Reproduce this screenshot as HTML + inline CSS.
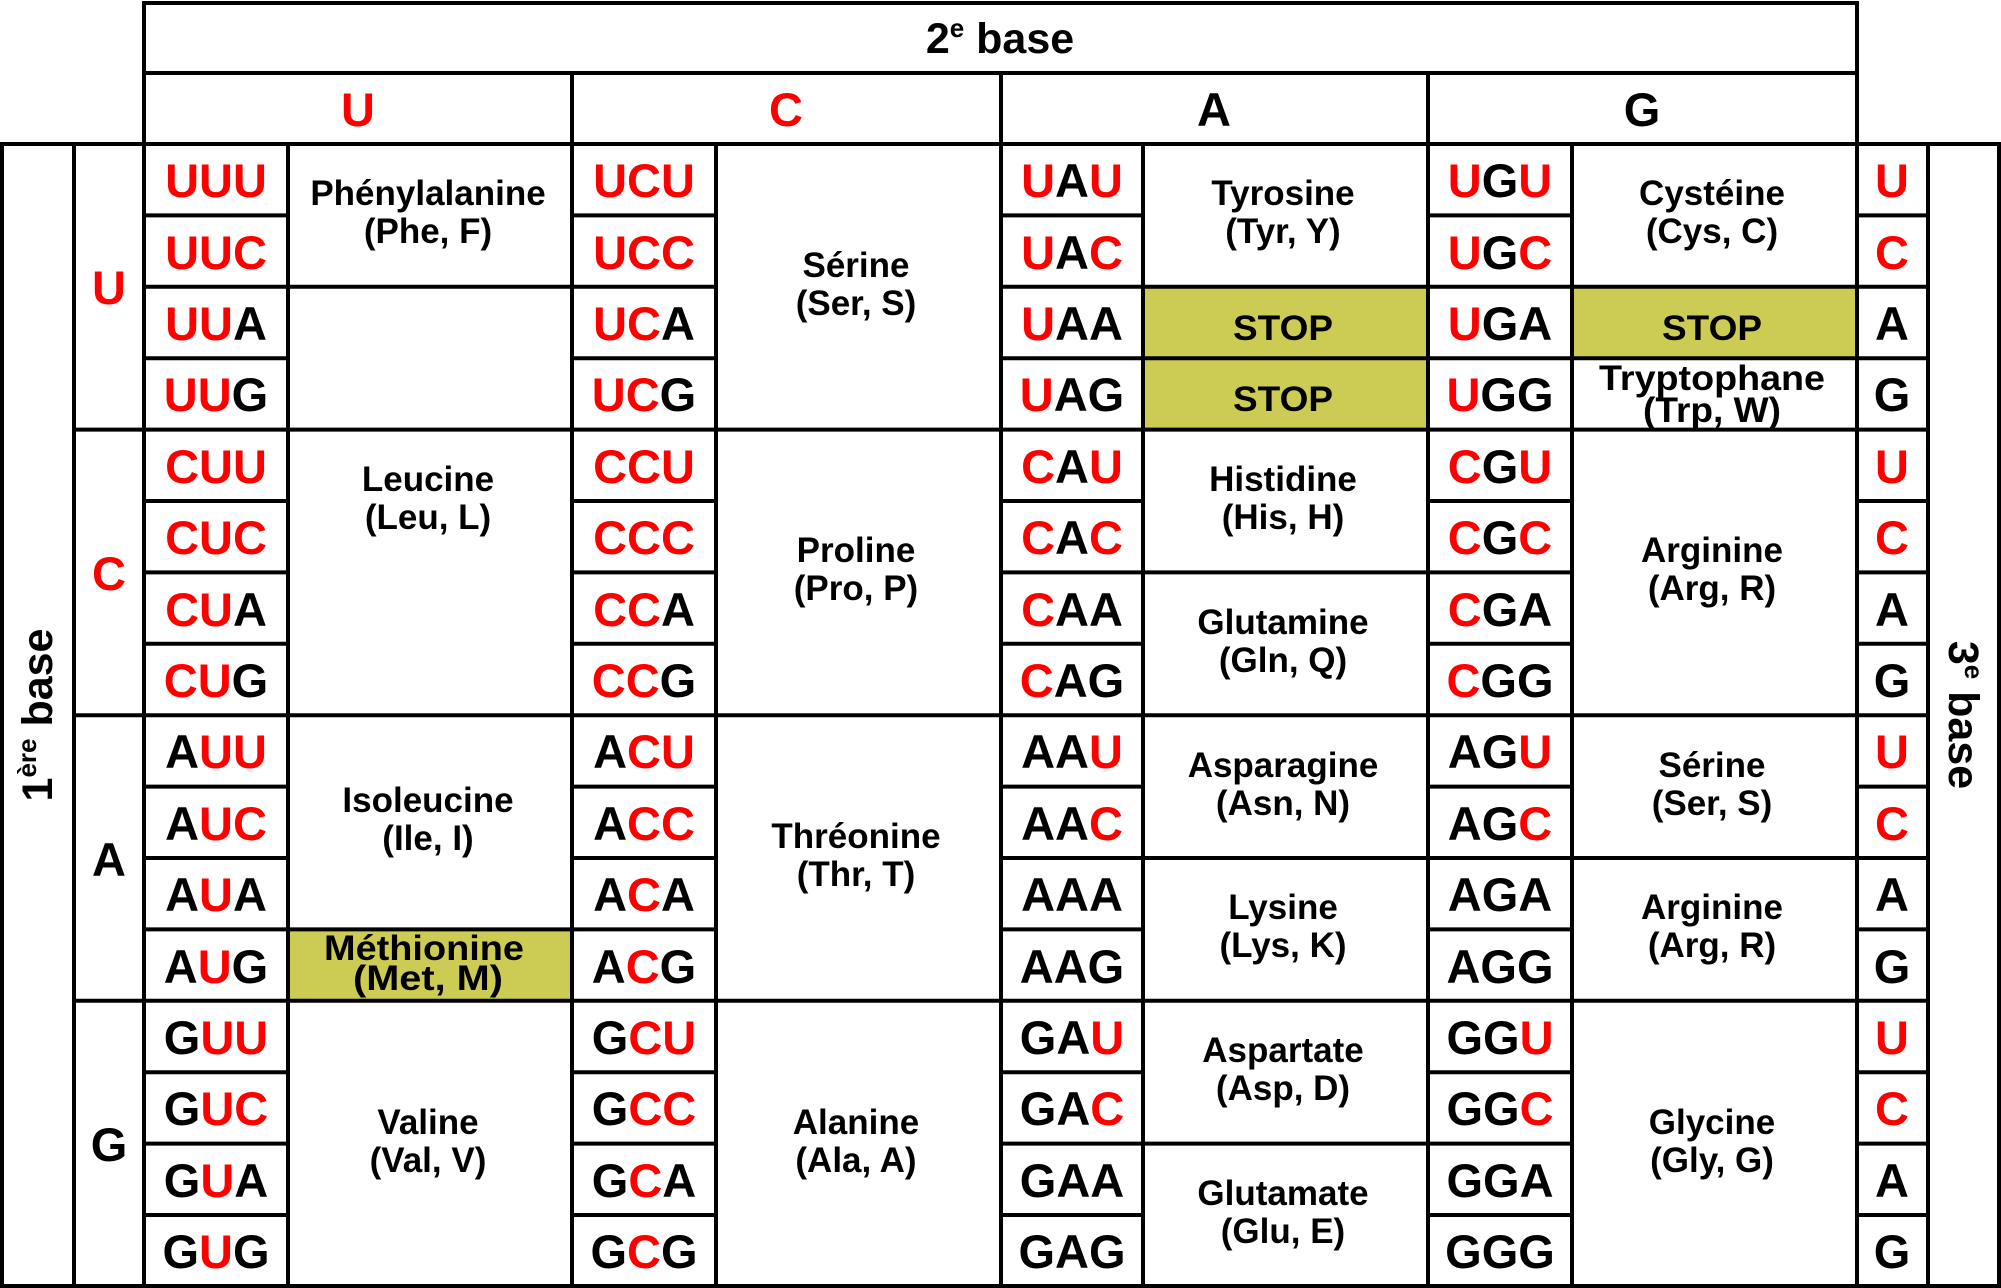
<!DOCTYPE html>
<html><head><meta charset="utf-8"><style>
html,body{margin:0;padding:0;background:#fff;}
svg{display:block;}
text{font-family:"Liberation Sans",Arial,sans-serif;font-weight:bold;fill:#000;}
.cd{font-size:47px;text-anchor:middle;}
.aa{font-size:35px;text-anchor:middle;}
.st{font-size:35px;text-anchor:middle;}
.r{fill:#ff0000;}
</style></head><body>
<svg width="2001" height="1288" viewBox="0 0 2001 1288" xmlns="http://www.w3.org/2000/svg">
<rect x="0" y="0" width="2001" height="1288" fill="#fff"/>
<g fill="#cccc55">
<rect x="1143" y="286.8" width="285" height="142.8"/>
<rect x="1572" y="286.8" width="285" height="71.4"/>
<rect x="288" y="929.4" width="284" height="71.4"/>
</g>
<g stroke="#000" stroke-width="4" fill="none">
<rect x="144" y="3" width="1713" height="141"/>
<path d="M144 73H1857M572 73V144M1001 73V144M1428 73V144"/>
<rect x="2" y="144" width="1997" height="1142"/>
<path d="M74 144V1286M144 144V1286M288 144V1286M572 144V1286M716 144V1286M1001 144V1286M1143 144V1286M1428 144V1286M1572 144V1286M1857 144V1286M1928 144V1286"/>
<path d="M74 429.6H1928M74 715.2H1928M74 1000.8H1928"/>
<path d="M144 215.4H288M572 215.4H716M1001 215.4H1143M1428 215.4H1572M1857 215.4H1928
M144 286.8H288M572 286.8H716M1001 286.8H1143M1428 286.8H1572M1857 286.8H1928
M144 358.2H288M572 358.2H716M1001 358.2H1143M1428 358.2H1572M1857 358.2H1928
M144 501H288M572 501H716M1001 501H1143M1428 501H1572M1857 501H1928
M144 572.4H288M572 572.4H716M1001 572.4H1143M1428 572.4H1572M1857 572.4H1928
M144 643.8H288M572 643.8H716M1001 643.8H1143M1428 643.8H1572M1857 643.8H1928
M144 786.6H288M572 786.6H716M1001 786.6H1143M1428 786.6H1572M1857 786.6H1928
M144 858H288M572 858H716M1001 858H1143M1428 858H1572M1857 858H1928
M144 929.4H288M572 929.4H716M1001 929.4H1143M1428 929.4H1572M1857 929.4H1928
M144 1072.2H288M572 1072.2H716M1001 1072.2H1143M1428 1072.2H1572M1857 1072.2H1928
M144 1143.6H288M572 1143.6H716M1001 1143.6H1143M1428 1143.6H1572M1857 1143.6H1928
M144 1215H288M572 1215H716M1001 1215H1143M1428 1215H1572M1857 1215H1928"/>
<path d="M288 286.8H572M288 929.4H572"/>
<path d="M1143 286.8H1428M1143 358.2H1428M1143 572.4H1428M1143 858H1428M1143 1143.6H1428"/>
<path d="M1572 286.8H1857M1572 358.2H1857M1572 858H1857"/>
</g>

<!-- headers -->
<text x="1000" y="53" style="font-size:43px;text-anchor:middle">2<tspan dy="-16" style="font-size:26px">e</tspan><tspan dy="16"> base</tspan></text>
<text class="cd" x="358" y="126"><tspan class="r">U</tspan></text>
<text class="cd" x="786" y="126"><tspan class="r">C</tspan></text>
<text class="cd" x="1214" y="126">A</text>
<text class="cd" x="1642" y="126">G</text>
<text transform="translate(52,715) rotate(-90)" style="font-size:43px;text-anchor:middle">1<tspan dy="-16" style="font-size:26px">ère</tspan><tspan dy="16"> base</tspan></text>
<text transform="translate(1949,715) rotate(90)" style="font-size:43px;text-anchor:middle">3<tspan dy="-16" style="font-size:26px">e</tspan><tspan dy="16"> base</tspan></text>

<!-- first letters -->
<text class="cd" x="109" y="304"><tspan class="r">U</tspan></text>
<text class="cd" x="109" y="590"><tspan class="r">C</tspan></text>
<text class="cd" x="109" y="876">A</text>
<text class="cd" x="109" y="1161">G</text>

<!-- third letters -->
<text class="cd" x="1892" y="197"><tspan class="r">U</tspan></text>
<text class="cd" x="1892" y="269"><tspan class="r">C</tspan></text>
<text class="cd" x="1892" y="340">A</text>
<text class="cd" x="1892" y="411">G</text>
<text class="cd" x="1892" y="483"><tspan class="r">U</tspan></text>
<text class="cd" x="1892" y="554"><tspan class="r">C</tspan></text>
<text class="cd" x="1892" y="626">A</text>
<text class="cd" x="1892" y="697">G</text>
<text class="cd" x="1892" y="768"><tspan class="r">U</tspan></text>
<text class="cd" x="1892" y="840"><tspan class="r">C</tspan></text>
<text class="cd" x="1892" y="911">A</text>
<text class="cd" x="1892" y="983">G</text>
<text class="cd" x="1892" y="1054"><tspan class="r">U</tspan></text>
<text class="cd" x="1892" y="1125"><tspan class="r">C</tspan></text>
<text class="cd" x="1892" y="1197">A</text>
<text class="cd" x="1892" y="1268">G</text>

<!-- codons col U -->
<text class="cd" x="216" y="197"><tspan class="r">UUU</tspan></text>
<text class="cd" x="216" y="269"><tspan class="r">UUC</tspan></text>
<text class="cd" x="216" y="340"><tspan class="r">UU</tspan>A</text>
<text class="cd" x="216" y="411"><tspan class="r">UU</tspan>G</text>
<text class="cd" x="216" y="483"><tspan class="r">CUU</tspan></text>
<text class="cd" x="216" y="554"><tspan class="r">CUC</tspan></text>
<text class="cd" x="216" y="626"><tspan class="r">CU</tspan>A</text>
<text class="cd" x="216" y="697"><tspan class="r">CU</tspan>G</text>
<text class="cd" x="216" y="768">A<tspan class="r">UU</tspan></text>
<text class="cd" x="216" y="840">A<tspan class="r">UC</tspan></text>
<text class="cd" x="216" y="911">A<tspan class="r">U</tspan>A</text>
<text class="cd" x="216" y="983">A<tspan class="r">U</tspan>G</text>
<text class="cd" x="216" y="1054">G<tspan class="r">UU</tspan></text>
<text class="cd" x="216" y="1125">G<tspan class="r">UC</tspan></text>
<text class="cd" x="216" y="1197">G<tspan class="r">U</tspan>A</text>
<text class="cd" x="216" y="1268">G<tspan class="r">U</tspan>G</text>
<!-- col C -->
<text class="cd" x="644" y="197"><tspan class="r">UCU</tspan></text>
<text class="cd" x="644" y="269"><tspan class="r">UCC</tspan></text>
<text class="cd" x="644" y="340"><tspan class="r">UC</tspan>A</text>
<text class="cd" x="644" y="411"><tspan class="r">UC</tspan>G</text>
<text class="cd" x="644" y="483"><tspan class="r">CCU</tspan></text>
<text class="cd" x="644" y="554"><tspan class="r">CCC</tspan></text>
<text class="cd" x="644" y="626"><tspan class="r">CC</tspan>A</text>
<text class="cd" x="644" y="697"><tspan class="r">CC</tspan>G</text>
<text class="cd" x="644" y="768">A<tspan class="r">CU</tspan></text>
<text class="cd" x="644" y="840">A<tspan class="r">CC</tspan></text>
<text class="cd" x="644" y="911">A<tspan class="r">C</tspan>A</text>
<text class="cd" x="644" y="983">A<tspan class="r">C</tspan>G</text>
<text class="cd" x="644" y="1054">G<tspan class="r">CU</tspan></text>
<text class="cd" x="644" y="1125">G<tspan class="r">CC</tspan></text>
<text class="cd" x="644" y="1197">G<tspan class="r">C</tspan>A</text>
<text class="cd" x="644" y="1268">G<tspan class="r">C</tspan>G</text>
<!-- col A -->
<text class="cd" x="1072" y="197"><tspan class="r">U</tspan>A<tspan class="r">U</tspan></text>
<text class="cd" x="1072" y="269"><tspan class="r">U</tspan>A<tspan class="r">C</tspan></text>
<text class="cd" x="1072" y="340"><tspan class="r">U</tspan>AA</text>
<text class="cd" x="1072" y="411"><tspan class="r">U</tspan>AG</text>
<text class="cd" x="1072" y="483"><tspan class="r">C</tspan>A<tspan class="r">U</tspan></text>
<text class="cd" x="1072" y="554"><tspan class="r">C</tspan>A<tspan class="r">C</tspan></text>
<text class="cd" x="1072" y="626"><tspan class="r">C</tspan>AA</text>
<text class="cd" x="1072" y="697"><tspan class="r">C</tspan>AG</text>
<text class="cd" x="1072" y="768">AA<tspan class="r">U</tspan></text>
<text class="cd" x="1072" y="840">AA<tspan class="r">C</tspan></text>
<text class="cd" x="1072" y="911">AAA</text>
<text class="cd" x="1072" y="983">AAG</text>
<text class="cd" x="1072" y="1054">GA<tspan class="r">U</tspan></text>
<text class="cd" x="1072" y="1125">GA<tspan class="r">C</tspan></text>
<text class="cd" x="1072" y="1197">GAA</text>
<text class="cd" x="1072" y="1268">GAG</text>
<!-- col G -->
<text class="cd" x="1500" y="197"><tspan class="r">U</tspan>G<tspan class="r">U</tspan></text>
<text class="cd" x="1500" y="269"><tspan class="r">U</tspan>G<tspan class="r">C</tspan></text>
<text class="cd" x="1500" y="340"><tspan class="r">U</tspan>GA</text>
<text class="cd" x="1500" y="411"><tspan class="r">U</tspan>GG</text>
<text class="cd" x="1500" y="483"><tspan class="r">C</tspan>G<tspan class="r">U</tspan></text>
<text class="cd" x="1500" y="554"><tspan class="r">C</tspan>G<tspan class="r">C</tspan></text>
<text class="cd" x="1500" y="626"><tspan class="r">C</tspan>GA</text>
<text class="cd" x="1500" y="697"><tspan class="r">C</tspan>GG</text>
<text class="cd" x="1500" y="768">AG<tspan class="r">U</tspan></text>
<text class="cd" x="1500" y="840">AG<tspan class="r">C</tspan></text>
<text class="cd" x="1500" y="911">AGA</text>
<text class="cd" x="1500" y="983">AGG</text>
<text class="cd" x="1500" y="1054">GG<tspan class="r">U</tspan></text>
<text class="cd" x="1500" y="1125">GG<tspan class="r">C</tspan></text>
<text class="cd" x="1500" y="1197">GGA</text>
<text class="cd" x="1500" y="1268">GGG</text>

<!-- amino acids col U -->
<text class="aa" x="428" y="205">Phénylalanine</text><text class="aa" x="428" y="243">(Phe, F)</text>
<text class="aa" x="428" y="491">Leucine</text><text class="aa" x="428" y="529">(Leu, L)</text>
<text class="aa" x="428" y="812">Isoleucine</text><text class="aa" x="428" y="850">(Ile, I)</text>
<text class="aa" x="424" y="960" textLength="200" lengthAdjust="spacingAndGlyphs">Méthionine</text><text class="aa" x="428" y="990" textLength="150" lengthAdjust="spacingAndGlyphs">(Met, M)</text>
<text class="aa" x="428" y="1134">Valine</text><text class="aa" x="428" y="1172">(Val, V)</text>
<!-- col C -->
<text class="aa" x="856" y="277">Sérine</text><text class="aa" x="856" y="315">(Ser, S)</text>
<text class="aa" x="856" y="562">Proline</text><text class="aa" x="856" y="600">(Pro, P)</text>
<text class="aa" x="856" y="848">Thréonine</text><text class="aa" x="856" y="886">(Thr, T)</text>
<text class="aa" x="856" y="1134">Alanine</text><text class="aa" x="856" y="1172">(Ala, A)</text>
<!-- col A -->
<text class="aa" x="1283" y="205">Tyrosine</text><text class="aa" x="1283" y="243">(Tyr, Y)</text>
<text class="st" x="1283" y="340" textLength="100" lengthAdjust="spacingAndGlyphs">STOP</text>
<text class="st" x="1283" y="411" textLength="100" lengthAdjust="spacingAndGlyphs">STOP</text>
<text class="aa" x="1283" y="491">Histidine</text><text class="aa" x="1283" y="529">(His, H)</text>
<text class="aa" x="1283" y="634">Glutamine</text><text class="aa" x="1283" y="672">(Gln, Q)</text>
<text class="aa" x="1283" y="777">Asparagine</text><text class="aa" x="1283" y="815">(Asn, N)</text>
<text class="aa" x="1283" y="919">Lysine</text><text class="aa" x="1283" y="957">(Lys, K)</text>
<text class="aa" x="1283" y="1062">Aspartate</text><text class="aa" x="1283" y="1100">(Asp, D)</text>
<text class="aa" x="1283" y="1205">Glutamate</text><text class="aa" x="1283" y="1243">(Glu, E)</text>
<!-- col G -->
<text class="aa" x="1712" y="205">Cystéine</text><text class="aa" x="1712" y="243">(Cys, C)</text>
<text class="st" x="1712" y="340" textLength="100" lengthAdjust="spacingAndGlyphs">STOP</text>
<text class="aa" x="1712" y="390" textLength="226" lengthAdjust="spacingAndGlyphs">Tryptophane</text><text class="aa" x="1712" y="422" textLength="138" lengthAdjust="spacingAndGlyphs">(Trp, W)</text>
<text class="aa" x="1712" y="562">Arginine</text><text class="aa" x="1712" y="600">(Arg, R)</text>
<text class="aa" x="1712" y="777">Sérine</text><text class="aa" x="1712" y="815">(Ser, S)</text>
<text class="aa" x="1712" y="919">Arginine</text><text class="aa" x="1712" y="957">(Arg, R)</text>
<text class="aa" x="1712" y="1134">Glycine</text><text class="aa" x="1712" y="1172">(Gly, G)</text>
</svg>
</body></html>
